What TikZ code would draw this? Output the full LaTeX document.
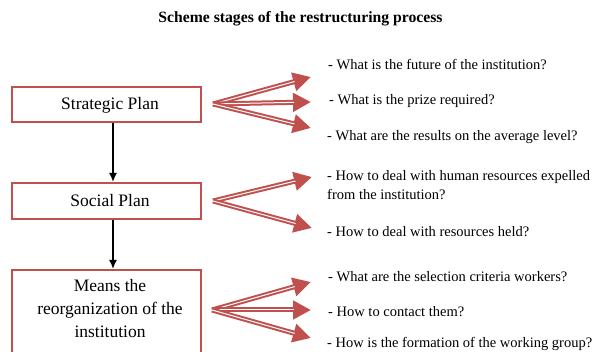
\documentclass[tikz,border=0pt]{standalone}
\usepackage{fontspec}
\setmainfont{Liberation Serif}
\usetikzlibrary{arrows.meta, positioning, calc}
\definecolor{schemered}{RGB}{192,80,77}

\tikzset{
	stagebox/.style={draw=schemered, line width=2pt, fill=white, minimum width=189pt, align=center, font=\fontsize{17.5}{23}\selectfont},
	fanarrow/.style={draw=schemered, line width=5pt, -{Triangle[length=18pt,width=18pt]},
		postaction={draw=white, line width=1pt, shorten >=17pt, -}},
	question/.style={anchor=west, align=left, inner sep=0pt, font=\fontsize{14.5}{19}\selectfont},
}

\begin{document}
\begin{tikzpicture}[x=1pt, y=-1pt]
\useasboundingbox (0,0) rectangle (592,352);

% Title
\node[font=\fontsize{15.7}{19}\bfseries] (title) at (300.5,19) {Scheme stages of the restructuring process};

% Draw stage boxes
\node[stagebox, minimum height=35pt] (strategic) at (106.5,105) {\hspace*{7pt}Strategic Plan};
\node[stagebox, minimum height=36pt] (social) at (106.5,201) {\hspace*{7pt}Social Plan};
\node[stagebox, minimum height=100pt, anchor=north] (means) at (106.5,269) {};
\node[align=center, font=\fontsize{17.5}{23}\selectfont] (meanstext) at (110,309) {Means the\\ reorganization of the\\ institution};

% Draw vertical arrows
\draw[->, >={Latex[length=9pt,width=8pt]}, line width=1.6pt] ([xshift=6.5pt]strategic.south) -- ([xshift=6.5pt]social.north);
\draw[->, >={Latex[length=9pt,width=8pt]}, line width=1.6pt] ([xshift=6.5pt]social.south) -- ([xshift=6.5pt]means.north);

% Questions
\node[question] (q1) at (328,65) {- What is the future of the institution?};
\node[question] (q2) at (329,101) {- What is the prize required?};
\node[question] (q3) at (327,137) {- What are the results on the average level?};
\node[question] (q4) at (327,185.5) {- How to deal with human resources expelled\\from the institution?};
\node[question] (q5) at (327,232) {- How to deal with resources held?};
\node[question] (q6) at (328,277) {- What are the selection criteria workers?};
\node[question] (q7) at (328,312) {- How to contact them?};
\node[question] (q8) at (327,344) {- How is the formation of the working group?};

% Fan points
\coordinate (fan1) at ($(strategic.east)+(11,-1)$);
\coordinate (fan2) at ($(social.east)+(11,0)$);
\coordinate (fan3) at (212,310);
\coordinate (tip1) at (311,77);
\coordinate (tip2) at (311,102);
\coordinate (tip3) at (311,128);
\coordinate (tip4) at (312,177);
\coordinate (tip5) at (312,228);
\coordinate (tip6) at (311,282);
\coordinate (tip7) at (311,310);
\coordinate (tip8) at (311,338);

% Draw red arrows
\foreach \s/\t in {fan1/tip1, fan1/tip2, fan1/tip3, fan2/tip4, fan2/tip5, fan3/tip6, fan3/tip7, fan3/tip8}
	\draw[fanarrow] (\s) -- (\t);
\end{tikzpicture}
\end{document}
